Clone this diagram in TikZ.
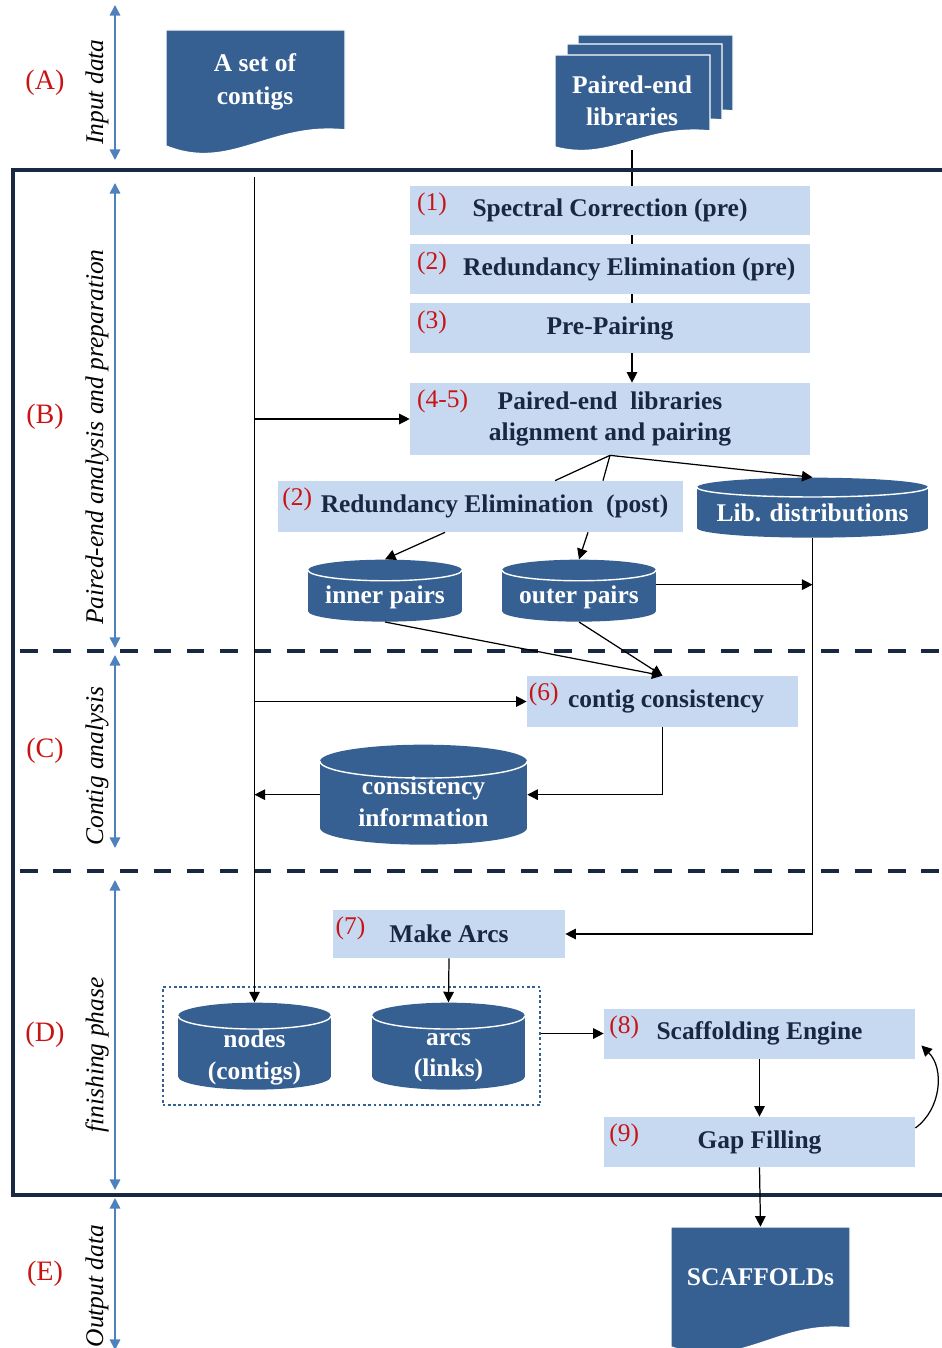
\documentclass[tikz,border=0pt]{standalone}
\usepackage{fontspec}
\setmainfont{Liberation Serif}
\usetikzlibrary{arrows.meta,positioning,calc,fit,backgrounds}
\definecolor{boxblue}{RGB}{198,217,241}
\definecolor{docblue}{RGB}{54,96,146}
\definecolor{navy}{RGB}{25,40,66}
\definecolor{axisblue}{RGB}{79,129,189}
\definecolor{numred}{RGB}{200,20,20}
\begin{document}
\begin{tikzpicture}[
  x=0.02cm, y=-0.02cm,
  node distance=1.18cm,
  every node/.style={font=\fontsize{14.5}{17}\selectfont},
  stage/.style={rectangle, fill=boxblue, text=navy, font=\bfseries\fontsize{14.5}{17.5}\selectfont, align=center, inner sep=0pt, minimum width=8cm, minimum height=1cm},
  num/.style={text=numred, font=\fontsize{14.5}{17}\selectfont, inner sep=4pt},
  db/.style={rectangle, anchor=south, inner sep=0pt,
    path picture={
      \fill[docblue] let \p1=(path picture bounding box.north east), \p2=(path picture bounding box.south west) in
        (\x2,{\y1-#1}) -- (\x2,{\y2+#1}) arc[start angle=180, end angle=360, x radius={(\x1-\x2)/2}, y radius=#1]
        -- (\x1,{\y1-#1}) arc[start angle=0, end angle=180, x radius={(\x1-\x2)/2}, y radius=#1] -- cycle;
      \draw[white, line width=0.8pt] let \p1=(path picture bounding box.north east), \p2=(path picture bounding box.south west) in
        (\x1,{\y1-#1}) arc[start angle=0, end angle=-180, x radius={(\x1-\x2)/2}, y radius=#1];
    }},
  dbtext/.style={text=white, font=\bfseries\fontsize{14.5}{18}\selectfont, align=center, inner sep=0pt, yshift=-4pt},
  sheet/.style={fill=docblue, draw=white, line width=0.8pt},
  doc/.style={text=white, font=\bfseries\fontsize{14.5}{18.5}\selectfont, align=center},
  arrow/.style={-{Triangle[length=6pt,width=6pt]}, line width=0.7pt},
  axis/.style={{Triangle[length=6pt,width=6pt]}-{Triangle[length=6pt,width=6pt]}, draw=axisblue, line width=0.9pt},
  phase/.style={rotate=90, font=\itshape\fontsize{14.5}{17}\selectfont},
  part/.style={text=numred, font=\fontsize{16}{18}\selectfont},
  sep/.style={draw=navy, line width=2.4pt, dash pattern=on 10pt off 9pt}
]
\useasboundingbox (0,0) rectangle (941,1348);

% frame and phase separators
\draw[navy, line width=2.4pt] (13,170) rectangle (990,1195);
\draw[sep] (20,651) -- (941,651);
\draw[sep] (20,871) -- (941,871);

% left column
\draw[axis] (115,5) -- (115,160);
\draw[axis] (115,183) -- (115,648);
\draw[axis] (115,655) -- (115,848);
\draw[axis] (115,880) -- (115,1190);
\draw[axis] (115,1198) -- (115,1350);
\node[part] at (45,83) {(A)};
\node[part] at (45,417) {(B)};
\node[part] at (45,751) {(C)};
\node[part] at (45,1035) {(D)};
\node[part] at (45,1274) {(E)};
\node[phase] at (97,92) {Input data};
\node[phase] at (97,437) {Paired-end analysis and preparation};
\node[phase] at (97,766) {Contig analysis};
\node[phase] at (97,1055) {finishing phase};
\node[phase] at (97,1286) {Output data};

% input and output documents
\draw[sheet] (166,30) -- (345,30) -- (345,130) .. controls (270,122) and (230,172) .. (166,146) -- cycle;
\draw[sheet] (578,35) -- (733,35) -- (733,111) .. controls (668,104) and (633,142) .. (578,127) -- cycle;
\draw[sheet] (567,44) -- (722,44) -- (722,120) .. controls (657,113) and (622,151) .. (567,136) -- cycle;
\draw[sheet] (555,55) -- (710,55) -- (710,131) .. controls (645,124) and (610,162) .. (555,147) -- cycle;
\draw[sheet] (671,1227) -- (850,1227) -- (850,1328) .. controls (775,1320) and (745,1370) .. (671,1347) -- cycle;
\node[doc] (contigs) at (255,82) {A set of\\contigs};
\node[doc, minimum width=3.1cm, minimum height=1.96cm] (pelib) at (632,101) {Paired-end\\libraries};
\node[doc, minimum width=3.58cm, minimum height=2.02cm] (scaf) at (760.5,1277.5) {SCAFFOLDs};

% steps
\node[stage, label={[num, anchor=north west]north west:(1)}] (s1) at (610,210.5) {Spectral Correction (pre)};
\node[stage, below of=s1, label={[num, anchor=north west]north west:(2)}] (s2) {\hspace*{22pt}Redundancy Elimination (pre)};
\node[stage, below of=s2, label={[num, anchor=north west]north west:(3)}] (s3) {Pre-Pairing};
\node[stage, minimum height=1.44cm, label={[num, anchor=north west]north west:(4-5)}] (s45) at (610,419) {Paired-end\ \ libraries\\alignment and pairing};
\node[stage, minimum width=8.1cm, minimum height=1.02cm, label={[num, anchor=north west, inner xsep=2.5pt]north west:(2)}] (s2p) at (480.5,506.5) {\hspace*{16pt}Redundancy Elimination\ \ (post)};
\node[stage, minimum width=5.42cm, minimum height=1.02cm, label={[num, anchor=north west, inner xsep=1pt]north west:(6)}] (s6) at (662.5,701.5) {\hspace*{4pt}contig consistency};
\node[stage, minimum width=4.64cm, minimum height=0.96cm, label={[num, anchor=north west, inner xsep=1.5pt]north west:(7)}] (s7) at (449,934) {Make Arcs};
\node[stage, minimum width=6.22cm, label={[num, anchor=north west, inner xsep=3pt]north west:(8)}] (s8) at (759.5,1033.5) {Scaffolding Engine};
\node[stage, minimum width=6.22cm, node distance=2.17cm, below of=s8, label={[num, anchor=north west, inner xsep=3pt]north west:(9)}] (s9) {Gap Filling};

% data stores
\node[db=5.5pt, minimum width=4.62cm, minimum height=1.2cm, label={[dbtext, yshift=1pt]center:Lib. distributions}] (lib) at (812.5,538) {};
\node[db=6pt, minimum width=3.08cm, minimum height=1.24cm, label={[dbtext]center:inner pairs}] (inner) at (385,622) {};
\node[db=6pt, minimum width=3.08cm, minimum height=1.24cm, label={[dbtext]center:outer pairs}] (outer) at (579,622) {};
\node[db=9.5pt, minimum width=4.14cm, minimum height=2cm, label={[dbtext]center:consistency\\information}] (cinfo) at (423.5,845) {};
\node[db=7.5pt, minimum width=3.06cm, minimum height=1.74cm, label={[dbtext, yshift=-2.5pt]center:nodes\\(contigs)}] (nodes) at (254.5,1090) {};
\node[db=7.5pt, minimum width=3.06cm, minimum height=1.74cm, label={[dbtext, yshift=-2.5pt]center:arcs\\(links)}] (arcs) at (448.5,1090) {};
\node[fit=(nodes)(arcs), draw=docblue, line width=1.3pt, dash pattern=on 1.5pt off 1.5pt, inner sep=0.3cm] (store) {};

% connectors
\coordinate (cTop) at (nodes.north |- 0,177);
\draw[arrow] (cTop) -- (nodes.north);
\draw[arrow] (cTop |- s45.west) -- (s45.west);
\draw[arrow] (cTop |- s6.west) -- (s6.west);
\draw[arrow] (cinfo.west) -- (cTop |- cinfo.west);
\begin{scope}[on background layer]
\draw[line width=0.7pt] (pelib.south) -- (pelib.south |- s3.south);
\end{scope}
\draw[arrow] (pelib.south |- s3.south) -- (pelib.south |- s45.north);
\draw[arrow] (s45.south) -- (lib.north);
\draw[line width=0.7pt] (s45.south) -- ([xshift=1.49cm]s2p.north);
\draw[line width=0.7pt] (s45.south) -- ([xshift=2.45cm]s2p.north);
\draw[arrow] ([xshift=-0.71cm]s2p.south) -- (inner.north);
\draw[arrow] ([xshift=2.15cm]s2p.south) -- (outer.north);
\draw[arrow] ([yshift=0.12cm]outer.east) -- ([yshift=0.12cm]outer.east -| lib.south);
\draw[arrow] (lib.south) |- (s7.east);
\draw[arrow] (inner.south) -- (s6.north);
\draw[arrow] (outer.south) -- (s6.north);
\draw[arrow] (s6.south) |- (cinfo.east);
\draw[arrow] (s7.south) -- (arcs.north);
\draw[arrow] (store.east |- s8.west) -- (s8.west);
\draw[arrow] (s8.south) -- (s9.north);
\draw[arrow] ([yshift=0.28cm]s9.east) to[bend right=50] ([xshift=0.12cm, yshift=-0.24cm]s8.east);
\draw[arrow] (s9.south) -- (scaf.north);
\end{tikzpicture}
\end{document}
